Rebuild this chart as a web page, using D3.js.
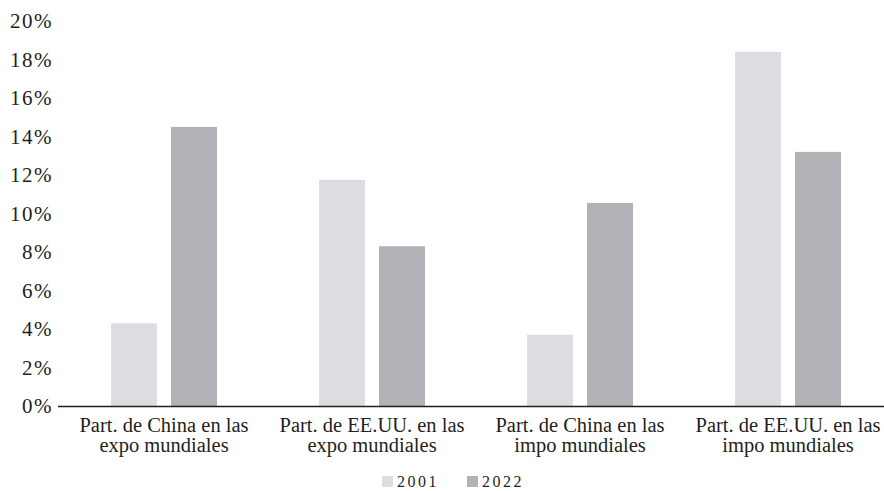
<!DOCTYPE html>
<html><head><meta charset="utf-8">
<script src="https://cdn.jsdelivr.net/npm/d3@7"></script>
<style>
body{margin:0;background:#fff;}
text{font-family:"Liberation Serif","Times New Roman",serif;fill:#231f20;}
</style></head>
<body><svg id="c" width="884" height="491"></svg>
<script>
const categories = [
  ["Part. de China en las","expo mundiales"],
  ["Part. de EE.UU. en las","expo mundiales"],
  ["Part. de China en las","impo mundiales"],
  ["Part. de EE.UU. en las","impo mundiales"]
];
const seriesNames = ["2001","2022"];
const values2001 = [4.3, 11.75, 3.7, 18.4];
const values2022 = [14.5, 8.3, 10.55, 13.2];
const yTicks = [0,2,4,6,8,10,12,14,16,18,20];
const colors = ["#dcdde0","#b1b2b6"];

const svg = d3.select("#c");
const y = d3.scaleLinear().domain([0,20]).range([406,21]);
const x0 = d3.scaleBand().domain(d3.range(categories.length)).range([60,892]);
const x1 = d3.scaleBand().domain(seriesNames).range([51,157]).paddingInner(0.2333).paddingOuter(0);
const color = d3.scaleOrdinal().domain(seriesNames).range(colors);

const data = categories.map((c,i)=>({i, vals:[{s:"2001",v:values2001[i]},{s:"2022",v:values2022[i]}]}));

svg.append("g").selectAll("g").data(data).join("g")
  .attr("transform",d=>`translate(${x0(d.i)},0)`)
  .selectAll("rect").data(d=>d.vals).join("rect")
  .attr("x",d=>x1(d.s)).attr("width",x1.bandwidth())
  .attr("y",d=>y(d.v)).attr("height",d=>y(0)-y(d.v))
  .attr("fill",d=>color(d.s));

// y axis labels
const yAxis = d3.axisLeft(y).tickValues(yTicks).tickFormat(d=>d+"%").tickSize(0).tickPadding(0);
const gy = svg.append("g").attr("transform","translate(53,0)").call(yAxis);
gy.select(".domain").remove();
gy.selectAll("text").style("font-size","21px").style("letter-spacing","1.5px")
  .attr("fill","#231f20").style("font-family",'"Liberation Serif",serif');

// x axis line
svg.append("line").attr("x1",58).attr("x2",884).attr("y1",406.5).attr("y2",406.5)
  .attr("stroke","#231f20").attr("stroke-width",1.3);

// category labels
const gx = svg.append("g");
categories.forEach((lines,i)=>{
  const cx = x0(i)+x0.bandwidth()/2;
  const t = gx.append("text").attr("x",cx).attr("y",432)
    .attr("text-anchor","middle").style("font-size","20.5px");
  lines.forEach((l,j)=>t.append("tspan").attr("x",cx).attr("dy",j?20:0).text(l));
});

// legend
const legX = [382,467];
seriesNames.forEach((s,i)=>{
  svg.append("rect").attr("x",legX[i]).attr("y",476).attr("width",11).attr("height",11).attr("fill",colors[i]);
  svg.append("text").attr("x",legX[i]+15).attr("y",487).style("font-size","16px").style("letter-spacing","2.5px").text(s);
});
</script></body></html>
